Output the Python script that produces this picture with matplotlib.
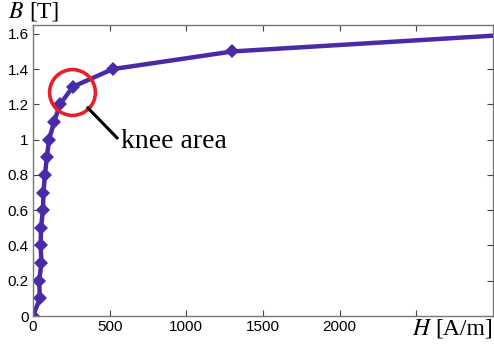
import matplotlib.pyplot as plt

# Magnetisation curve of the core material
H = [0, 45, 40, 55, 50, 52, 65, 68, 78, 90, 105, 137, 176, 260, 520, 1300, 3200]
B = [0, 0.1, 0.2, 0.3, 0.4, 0.5, 0.6, 0.7, 0.8, 0.9, 1.0, 1.1, 1.2, 1.3, 1.4, 1.5, 1.6]

x_ticks = [0, 500, 1000, 1500, 2000, 2500]
x_labels = ["0", "500", "1000", "1500", "2000", ""]
y_ticks = [0, 0.2, 0.4, 0.6, 0.8, 1.0, 1.2, 1.4, 1.6]
y_labels = ["0", "0.2", "0.4", "0.6", "0.8", "1", "1.2", "1.4", "1.6"]

knee = (254, 1.27)

plt.rcParams["font.family"] = "Liberation Sans"

fig = plt.figure(figsize=(4.94, 3.45), dpi=100)
ax = fig.add_axes([0.0668, 0.084, 0.9312, 0.8435])

ax.plot(H, B, color="#4a2aa8", linewidth=3.2, marker="D", markersize=7,
        markeredgewidth=0, clip_on=True)

# highlight the knee of the curve
ax.plot([knee[0]], [knee[1]], marker="o", markersize=33, fillstyle="none",
        markeredgecolor="#e8202a", markeredgewidth=2.6, linestyle="none")
ax.plot([358, 548], [1.18, 1.01], color="black", linewidth=2.2)
ax.text(575, 0.99, "knee area", fontsize=20, family="Liberation Serif",
        va="center", ha="left")

ax.set_xlim(0, 3000)
ax.set_ylim(0, 1.65)
ax.set_xticks(x_ticks)
ax.set_xticklabels(x_labels)
ax.set_yticks(y_ticks)
ax.set_yticklabels(y_labels)
ax.tick_params(direction="in", top=True, right=True, length=4,
               labelsize=11, pad=3, color="#444444")
for side in ["left", "bottom", "top", "right"]:
    ax.spines[side].set_color("#777777")
    ax.spines[side].set_linewidth(1.0)

fig.text(0.016, 0.965, r"$B$", fontsize=17, family="Liberation Serif",
         va="center", ha="left", math_fontfamily="stix")
fig.text(0.06, 0.965, "[T]", fontsize=17, family="Liberation Serif",
         va="center", ha="left")
fig.text(0.835, 0.045, r"$H$", fontsize=17, family="Liberation Serif",
         va="center", ha="left", math_fontfamily="stix")
fig.text(0.882, 0.045, "[A/m]", fontsize=17, family="Liberation Serif",
         va="center", ha="left")

fig.savefig("out.png", dpi=100)
